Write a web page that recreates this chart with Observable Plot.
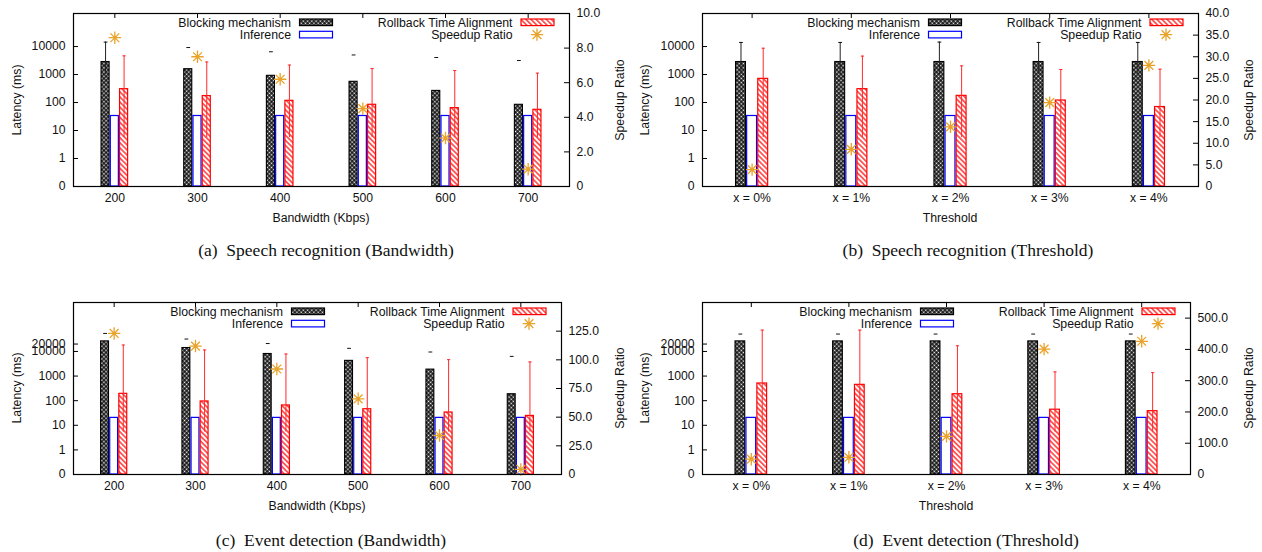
<!DOCTYPE html>
<html>
<head>
<meta charset="utf-8">
<script src="https://cdn.jsdelivr.net/npm/d3@7"></script>
<script src="https://cdn.jsdelivr.net/npm/@observablehq/plot@0.6"></script>
<style>
  html, body { margin: 0; padding: 0; background: #fff; }
  #root { position: relative; width: 1262px; height: 552px; overflow: hidden; background: #fff; }
  .panel { position: absolute; }
  .lbl { position: absolute; font-family: 'Liberation Sans', Arial, sans-serif; font-size: 12.3px; color: #111; white-space: nowrap; transform: translate(-50%, -50%); }
  .rot { transform: translate(-50%, -50%) rotate(-90deg); }
  .cap { position: absolute; font-family: 'Liberation Serif', 'DejaVu Serif', serif; font-size: 17.5px; color: #111; white-space: nowrap; transform: translate(-50%, -50%); }
</style>
</head>
<body>
<svg width="0" height="0" style="position:absolute">
  <defs>
    <pattern id="checker" patternUnits="userSpaceOnUse" width="3" height="3" patternTransform="rotate(45)">
      <rect width="3" height="3" fill="#000"/>
      <rect x="0.6" y="0.6" width="1.7" height="1.7" fill="#fff"/>
    </pattern>
    <pattern id="hatch" patternUnits="userSpaceOnUse" width="3.6" height="3.6" patternTransform="rotate(-45)">
      <rect width="3.6" height="3.6" fill="#fff"/>
      <line x1="1.8" y1="0" x2="1.8" y2="3.6" stroke="#ff0000" stroke-width="1.2"/>
    </pattern>
  </defs>
</svg>
<div id="root"></div>
<script>
// ---------- categories & tick labels ----------
const bandwidth = [200, 300, 400, 500, 600, 700];
const bandwidthLabels = ["200", "300", "400", "500", "600", "700"];
const thresholdIdx = [0, 1, 2, 3, 4];
const thresholdLabels = ["x = 0%", "x = 1%", "x = 2%", "x = 3%", "x = 4%"];
const latencyLabelsSR = ["0", "1", "10", "100", "1000", "10000"];
const latencyLabelsED = ["0", "1", "10", "100", "1000", "10000", "20000"];
const speedupTicksA = [0, 2, 4, 6, 8, 10];
const speedupTicksB = [0, 5, 10, 15, 20, 25, 30, 35, 40];
const speedupTicksC = [0, 25, 50, 75, 100, 125];
const speedupTicksD = [0, 100, 200, 300, 400, 500];
const seriesNames = ["Blocking mechanism", "Inference", "Rollback Time Alignment", "Speedup Ratio"];

// ---------- (a) Speech recognition (Bandwidth) ----------
const aBlocking   = [2800, 1550, 900, 550, 260, 83];
const aBlockingHi = [14400, 9200, 6500, 5000, 4050, 3160];
const aBlockingLo = [1000, null, null, null, null, null];
const aInference  = [33, 33, 33, 33, 33, 33];
const aRollback   = [300, 170, 115, 83, 63, 55];
const aRollbackHi = [4650, 2800, 2180, 1630, 1390, 1120];
const aRollbackLo = [5.6, 5.6, 5.6, 5.6, 5.6, 5.6];
const aSpeedup    = [8.6, 7.5, 6.2, 4.5, 2.8, 1.0];

// ---------- (b) Speech recognition (Threshold) ----------
const bBlocking   = [2800, 2800, 2800, 2800, 2800];
const bBlockingHi = [14000, 14000, 14400, 14000, 14000];
const bBlockingLo = [1000, 1000, 1000, 1000, 1000];
const bInference  = [33, 33, 33, 33, 33];
const bRollback   = [700, 300, 173, 118, 69];
const bRollbackHi = [8700, 4550, 2040, 1510, 1550];
const bRollbackLo = [5.6, 5.6, 5.6, 5.6, 5.6];
const bSpeedup    = [3.9, 8.6, 13.8, 19.4, 28.0];

// ---------- (c) Event detection (Bandwidth) ----------
const cBlocking   = [25700, 13800, 7900, 4150, 1830, 183];
const cBlockingHi = [54000, 32000, 21000, 13400, 9500, 6300];
const cBlockingLo = [null, null, null, null, null, null];
const cInference  = [20, 20, 20, 20, 20, 20];
const cRollback   = [190, 93, 64, 45, 33, 24];
const cRollbackHi = [18300, 11500, 7900, 5600, 4650, 3750];
const cRollbackLo = [5.3, 5.3, 5.3, 5.3, 5.3, 5.3];
const cSpeedup    = [123, 112, 92, 66, 34, 4.4];

// ---------- (d) Event detection (Threshold) ----------
const dBlocking   = [25700, 25700, 25700, 25700, 25700];
const dBlockingHi = [51000, 51000, 51000, 51000, 51000];
const dBlockingLo = [null, null, null, null, null];
const dInference  = [20, 20, 20, 20, 20];
const dRollback   = [500, 440, 183, 43, 37.5];
const dRollbackHi = [74000, 74000, 17000, 1480, 1380];
const dRollbackLo = [5.3, 5.3, 5.3, 5.3, 5.3];
const dSpeedup    = [49, 55, 122, 401, 426];

// ---------- drawing ----------
const FONT = "'Liberation Sans', Arial, Helvetica, sans-serif";
const STAR_COLOR = "#E9A32A";
const starSymbol = {
  draw(ctx, size) {
    const r = Math.sqrt(size / Math.PI);
    for (let k = 0; k < 4; k++) {
      const a = k * Math.PI / 4;
      ctx.moveTo(-r * Math.cos(a), -r * Math.sin(a));
      ctx.lineTo(r * Math.cos(a), r * Math.sin(a));
    }
  }
};
const dashSymbol = {
  draw(ctx, size) {
    const r = Math.sqrt(size / Math.PI);
    ctx.moveTo(-r, 0);
    ctx.lineTo(r, 0);
  }
};
const latPos = v => (v <= 0 ? 0 : Math.log10(v) + 1);
const root = document.getElementById("root");

function addLabel(text, x, y, cls) {
  const d = document.createElement("div");
  d.className = cls;
  d.textContent = text;
  d.style.left = x + "px";
  d.style.top = y + "px";
  root.appendChild(d);
}

function panel(o) {
  const m = o.margin;
  const fw = o.width - m.left - m.right;
  const fh = o.height - m.top - m.bottom;
  const step = o.xs[1] - o.xs[0];
  const bw = 0.112 * step;
  const rows = o.xs.map((x, i) => ({
    x, block: o.block[i], blockHi: o.blockHi[i], blockLo: o.blockLo[i],
    inf: o.inf[i], roll: o.roll[i], rollHi: o.rollHi[i], rollLo: o.rollLo[i], speed: o.speed[i]
  }));
  const leftTicks = o.leftLabels.map(l => latPos(+l));
  const leftMap = new Map(leftTicks.map((t, i) => [t, o.leftLabels[i]]));
  const rightPos = o.rightTicks.map(t => t / o.rightMax * o.leftTop);
  const rightMap = new Map(rightPos.map((p, i) => [p, o.rightTicks[i] === 0 ? "0" : o.rightTicks[i].toFixed(1)]));
  const xMap = new Map(o.xs.map((x, i) => [x, o.xLabels[i]]));
  const sy = d => d.speed / o.rightMax * o.leftTop;

  const chart = Plot.plot({
    width: o.width, height: o.height,
    marginLeft: m.left, marginRight: m.right, marginTop: m.top, marginBottom: m.bottom,
    x: {type: "linear", domain: [o.xs[0] - step / 2, o.xs[o.xs.length - 1] + step / 2]},
    y: {type: "linear", domain: [0, o.leftTop]},
    style: {fontFamily: FONT, fontSize: "12.2px", color: "#111", background: "transparent", overflow: "visible"},
    marks: [
      Plot.tickX(o.xs, {x: d => d, insetBottom: fh - 5, stroke: "#000"}),
      Plot.tickX(o.xs, {x: d => d, insetTop: fh - 5, stroke: "#000"}),
      Plot.tickY(leftTicks, {y: d => d, insetRight: fw - 5, stroke: "#000"}),
      Plot.tickY(rightPos, {y: d => d, insetLeft: fw - 5, stroke: "#000"}),
      Plot.rect(rows, {x1: d => d.x - 1.5 * bw, x2: d => d.x - 0.5 * bw, y1: d => 0, y2: d => latPos(d.block),
        fill: "url(#checker)", stroke: "#000", strokeWidth: 1.1, insetLeft: 0.6, insetRight: 0.6}),
      Plot.rect(rows, {x1: d => d.x - 0.5 * bw, x2: d => d.x + 0.5 * bw, y1: d => 0, y2: d => latPos(d.inf),
        fill: "#fff", stroke: "#0000ff", strokeWidth: 1.2, insetLeft: 0.6, insetRight: 0.6}),
      Plot.rect(rows, {x1: d => d.x + 0.5 * bw, x2: d => d.x + 1.5 * bw, y1: d => 0, y2: d => latPos(d.roll),
        fill: "url(#hatch)", stroke: "#ff0000", strokeWidth: 1.2, insetLeft: 0.6, insetRight: 0.6}),
      Plot.ruleX(rows.filter(d => d.blockLo != null), {x: d => d.x - bw, y1: d => latPos(d.blockLo), y2: d => latPos(d.blockHi),
        stroke: "#222", strokeWidth: 1}),
      Plot.dot(rows, {x: d => d.x - bw, y: d => latPos(d.blockHi), symbol: dashSymbol, r: 1.9, stroke: "#111", strokeWidth: 1, fill: "none"}),
      Plot.ruleX(rows, {x: d => d.x + bw, y1: d => latPos(d.rollLo), y2: d => latPos(d.rollHi),
        stroke: "#ff2a2a", strokeWidth: 1}),
      Plot.dot(rows, {x: d => d.x + bw, y: d => latPos(d.rollHi), symbol: dashSymbol, r: 1.6, stroke: "#ff2a2a", strokeWidth: 1, fill: "none"}),
      Plot.dot(rows, {x: d => d.x, y: sy, symbol: starSymbol, r: 6.2, stroke: STAR_COLOR, strokeWidth: 1.3, fill: "none"}),
      Plot.frame({stroke: "#000", strokeWidth: 1.2}),
      Plot.axisY(leftTicks, {anchor: "left", tickSize: 0, tickPadding: 8, tickFormat: d => leftMap.get(d), label: null}),
      Plot.axisY(rightPos, {anchor: "right", tickSize: 0, tickPadding: 7, tickFormat: d => rightMap.get(d), label: null}),
      Plot.axisX(o.xs, {anchor: "bottom", tickSize: 0, tickPadding: 7, tickFormat: d => xMap.get(d), label: null})
    ]
  });
  chart.classList.add("panel");
  chart.style.left = o.left + "px";
  chart.style.top = o.top + "px";
  root.appendChild(chart);

  // legend inside the frame, top right
  const svg = d3.select(chart);
  const R = o.width - m.right, T = m.top;
  const g = svg.append("g").attr("font-family", FONT).attr("font-size", "12.3px").attr("fill", "#111");
  const row1 = T + 9.3, row2 = T + 21.6;
  const items = [
    {name: seriesNames[0], tx: R - 278, y: row1, fill: "url(#checker)", stroke: "#000"},
    {name: seriesNames[1], tx: R - 278, y: row2, fill: "#fff", stroke: "#0000ff"},
    {name: seriesNames[2], tx: R - 56.5, y: row1, fill: "url(#hatch)", stroke: "#ff0000"},
    {name: seriesNames[3], tx: R - 56.5, y: row2, star: true}
  ];
  for (const it of items) {
    g.append("text").attr("x", it.tx).attr("y", it.y).attr("text-anchor", "end")
      .attr("dy", "0.35em").text(it.name);
    if (it.star) {
      const p = d3.path();
      starSymbol.draw(p, 6.2 * 6.2 * Math.PI);
      g.append("path").attr("d", p.toString()).attr("transform", `translate(${R - 32},${it.y})`)
        .attr("stroke", STAR_COLOR).attr("stroke-width", 1.3).attr("fill", "none");
    } else {
      g.append("rect").attr("x", it.tx + 8.5).attr("y", it.y - 3.3).attr("width", 33).attr("height", 6.6)
        .attr("fill", it.fill).attr("stroke", it.stroke).attr("stroke-width", 1.2);
    }
  }
  // axis titles & caption
  const fx = o.left + m.left + fw / 2;
  const fy = o.top + m.top + fh / 2;
  addLabel("Latency (ms)", o.yTitleX, fy, "lbl rot");
  addLabel("Speedup Ratio", o.y2TitleX, fy, "lbl rot");
  addLabel(o.xTitle, fx, o.top + m.top + fh + 32, "lbl");
  addLabel(o.caption, o.capX, o.capY, "cap");
}

panel({left: 0, top: 0, width: 631, height: 228, margin: {left: 73, right: 62, top: 13, bottom: 42},
  xs: bandwidth, xLabels: bandwidthLabels, block: aBlocking, blockHi: aBlockingHi, blockLo: aBlockingLo,
  inf: aInference, roll: aRollback, rollHi: aRollbackHi, rollLo: aRollbackLo, speed: aSpeedup,
  leftLabels: latencyLabelsSR, leftTop: 6.18, rightTicks: speedupTicksA, rightMax: 10,
  yTitleX: 17, y2TitleX: 620, xTitle: "Bandwidth (Kbps)", caption: "(a)\u2002Speech recognition (Bandwidth)", capX: 326, capY: 250});

panel({left: 631, top: 0, width: 631, height: 228, margin: {left: 71, right: 64, top: 13, bottom: 42},
  xs: thresholdIdx, xLabels: thresholdLabels, block: bBlocking, blockHi: bBlockingHi, blockLo: bBlockingLo,
  inf: bInference, roll: bRollback, rollHi: bRollbackHi, rollLo: bRollbackLo, speed: bSpeedup,
  leftLabels: latencyLabelsSR, leftTop: 6.18, rightTicks: speedupTicksB, rightMax: 40,
  yTitleX: 645, y2TitleX: 1249, xTitle: "Threshold", caption: "(b)\u2002Speech recognition (Threshold)", capX: 968, capY: 250});

panel({left: 0, top: 289, width: 631, height: 227, margin: {left: 73, right: 70, top: 13, bottom: 42},
  xs: bandwidth, xLabels: bandwidthLabels, block: cBlocking, blockHi: cBlockingHi, blockLo: cBlockingLo,
  inf: cInference, roll: cRollback, rollHi: cRollbackHi, rollLo: cRollbackLo, speed: cSpeedup,
  leftLabels: latencyLabelsED, leftTop: 6.99, rightTicks: speedupTicksC, rightMax: 150,
  yTitleX: 17, y2TitleX: 620, xTitle: "Bandwidth (Kbps)", caption: "(c)\u2002Event detection (Bandwidth)", capX: 331, capY: 540});

panel({left: 631, top: 289, width: 631, height: 227, margin: {left: 71, right: 72, top: 13, bottom: 42},
  xs: thresholdIdx, xLabels: thresholdLabels, block: dBlocking, blockHi: dBlockingHi, blockLo: dBlockingLo,
  inf: dInference, roll: dRollback, rollHi: dRollbackHi, rollLo: dRollbackLo, speed: dSpeedup,
  leftLabels: latencyLabelsED, leftTop: 6.99, rightTicks: speedupTicksD, rightMax: 550,
  yTitleX: 645, y2TitleX: 1249, xTitle: "Threshold", caption: "(d)\u2002Event detection (Threshold)", capX: 966, capY: 540});
</script>
</body>
</html>
